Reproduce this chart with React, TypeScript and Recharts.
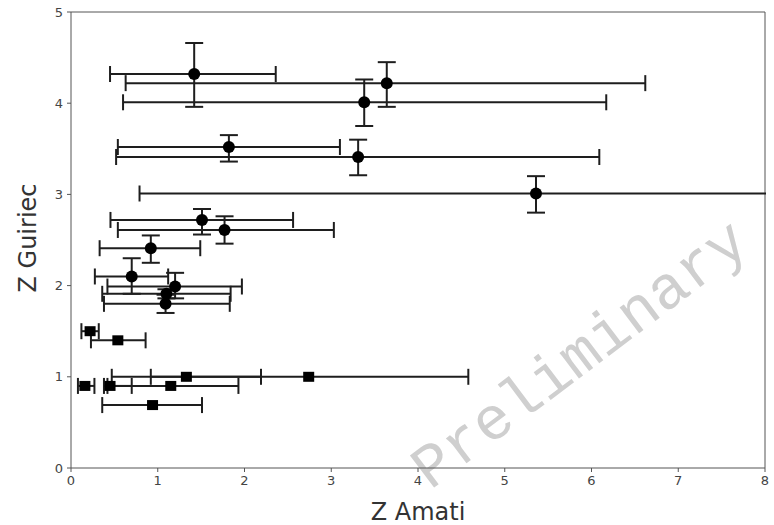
import React from 'react';
import { ScatterChart, Scatter, XAxis, YAxis, ErrorBar, ReferenceLine, Customized } from 'recharts';

// Circle-marker points
const circleX = [1.42, 3.64, 3.38, 1.82, 3.31, 5.36, 1.51, 1.77, 0.92, 0.70, 1.20, 1.10, 1.09];
const circleY = [4.32, 4.22, 4.01, 3.52, 3.41, 3.01, 2.72, 2.61, 2.41, 2.10, 1.99, 1.91, 1.80];
const circleXLow = [0.45, 0.63, 0.60, 0.54, 0.52, 0.79, 0.455, 0.54, 0.33, 0.275, 0.42, 0.36, 0.38];
const circleXHigh = [2.36, 6.62, 6.17, 3.10, 6.09, 9.5, 2.56, 3.03, 1.49, 1.12, 1.97, 1.84, 1.83];
const circleYLow = [3.96, 3.96, 3.75, 3.36, 3.21, 2.80, 2.56, 2.46, 2.25, 1.91, 1.86, 1.86, 1.70];
const circleYHigh = [4.66, 4.45, 4.26, 3.65, 3.60, 3.20, 2.84, 2.76, 2.55, 2.30, 2.14, 1.96, 1.90];

// Square-marker points
const squareX = [0.22, 0.54, 1.33, 2.74, 0.16, 0.45, 1.15, 0.94];
const squareY = [1.50, 1.40, 1.00, 1.00, 0.90, 0.90, 0.90, 0.69];
const squareXLow = [0.12, 0.23, 0.47, 0.92, 0.08, 0.38, 0.42, 0.36];
const squareXHigh = [0.32, 0.86, 2.19, 4.58, 0.27, 0.70, 1.93, 1.51];

const xTicks = [0, 1, 2, 3, 4, 5, 6, 7, 8];
const yTicks = [0, 1, 2, 3, 4, 5];

const circleData = circleX.map((x, i) => ({
  x,
  y: circleY[i],
  ex: [x - circleXLow[i], circleXHigh[i] - x],
  ey: [circleY[i] - circleYLow[i], circleYHigh[i] - circleY[i]],
}));
const squareData = squareX.map((x, i) => ({
  x,
  y: squareY[i],
  ex: [x - squareXLow[i], squareXHigh[i] - x],
}));

const W = 774;
const H = 525;
const MARGIN = { top: 12, right: 9, bottom: 0, left: 0 };
const X_AXIS_H = 57;
const PLOT_RIGHT = W - MARGIN.right;
const PLOT_BOTTOM = H - X_AXIS_H;

const FONT = 'DejaVu Sans';
const AXIS = '#555';
const BAR = '#1e1e1e';

const CircleDot = (p: any) => <circle cx={p.cx} cy={p.cy} r={6} fill="#000" />;
const SquareDot = (p: any) => <rect x={p.cx - 5.5} y={p.cy - 5} width={11} height={10} fill="#000" />;

const Watermark = (props: any) => {
  const { offset } = props;
  const cx = (offset?.left ?? 71) + (offset?.width ?? 694) * 0.735;
  const cy = (offset?.top ?? 12) + (offset?.height ?? 456) * 0.755;
  return (
    <text
      x={cx}
      y={cy}
      textAnchor="middle"
      dominantBaseline="central"
      fontFamily="Liberation Mono"
      fontSize={61}
      fill="#cfcfcf"
      transform={`rotate(-37 ${cx} ${cy})`}
    >
      Preliminary
    </text>
  );
};

const clip = `polygon(0 0, ${PLOT_RIGHT + 1}px 0, ${PLOT_RIGHT + 1}px ${PLOT_BOTTOM + 2}px, ${W}px ${PLOT_BOTTOM + 2}px, ${W}px ${H}px, 0 ${H}px)`;

export default function App() {
  return (
    <div style={{ position: 'absolute', left: 0, top: 0, background: '#fff', clipPath: clip }}>
      <ScatterChart width={W} height={H} margin={MARGIN}>
        <XAxis
          type="number"
          dataKey="x"
          domain={[0, 8]}
          ticks={xTicks}
          allowDataOverflow
          interval={0}
          stroke={AXIS}
          tickSize={4}
          tickMargin={4}
          height={X_AXIS_H}
          tick={{ fill: '#444', fontSize: 13, fontFamily: FONT }}
          label={(p: any) => {
            const vb = p.viewBox;
            return (
              <text x={vb.x + vb.width / 2} y={vb.y + 52} textAnchor="middle" fontFamily={FONT} fontSize={24} fill="#333">
                Z Amati
              </text>
            );
          }}
        />
        <YAxis
          type="number"
          dataKey="y"
          domain={[0, 5]}
          ticks={yTicks}
          allowDataOverflow
          interval={0}
          stroke={AXIS}
          tickSize={4}
          tickMargin={4}
          width={71}
          tick={{ fill: '#444', fontSize: 13, fontFamily: FONT }}
          label={(p: any) => {
            const vb = p.viewBox;
            const x = vb.x + 36;
            const y = vb.y + vb.height / 2 - 2;
            return (
              <text x={x} y={y} textAnchor="middle" fontFamily={FONT} fontSize={24} fill="#333" transform={`rotate(-90 ${x} ${y})`}>
                Z Guiriec
              </text>
            );
          }}
        />
        <ReferenceLine y={5} stroke={AXIS} strokeWidth={1} />
        <ReferenceLine x={8} stroke={AXIS} strokeWidth={1} />
        <Customized component={Watermark} />
        <Scatter data={circleData} fill="#000" shape={CircleDot} isAnimationActive={false}>
          <ErrorBar dataKey="ex" direction="x" stroke={BAR} strokeWidth={2} width={8} isAnimationActive={false} />
          <ErrorBar dataKey="ey" direction="y" stroke={BAR} strokeWidth={2} width={9} isAnimationActive={false} />
        </Scatter>
        <Scatter data={squareData} fill="#000" shape={SquareDot} isAnimationActive={false}>
          <ErrorBar dataKey="ex" direction="x" stroke={BAR} strokeWidth={2} width={8} isAnimationActive={false} />
        </Scatter>
      </ScatterChart>
    </div>
  );
}
